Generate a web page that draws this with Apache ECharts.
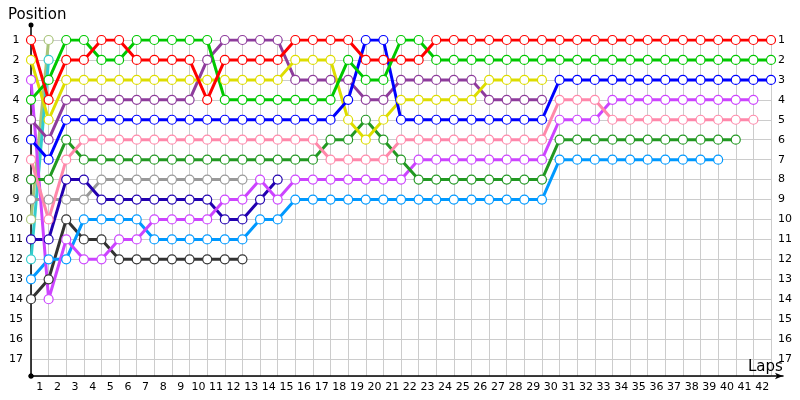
<!DOCTYPE html>
<html><head><meta charset="utf-8">
<script src="https://cdn.jsdelivr.net/npm/echarts@6/dist/echarts.min.js"></script>
<style>html,body{margin:0;padding:0;background:#fff}#c{width:800px;height:400px}</style>
</head><body><div id="c"></div>
<script>
function rep(v,n){var a=[];for(var i=0;i<n;i++)a.push(v);return a;}
var lapLabels=[];for(var i=1;i<=42;i++)lapLabels.push(String(i));
// positions per lap, index = lap (0 = start)
var red=[1,4,2,2,1,1,2,2,2,2,4,2,2,2,2,1,1,1,1,2,2,2,2].concat(rep(1,20));
var green=[4,3,1,1,2,2,1,1,1,1,1,4,4,4,4,4,4,4,2,3,3,1,1].concat(rep(2,20));
var blue=[6,7].concat(rep(5,16),[4,1,1],rep(5,9),rep(3,13));
var yellow=[2,5].concat(rep(3,13),[2,2,2,5,6,5],rep(4,5),rep(3,4));
var purple=[5,6].concat(rep(4,8),[2],rep(1,4),rep(3,4),[4,4],rep(3,5),rep(4,4));
var pink=[7,10,7].concat(rep(6,14),rep(7,4),rep(6,9),rep(4,3),rep(5,9));
var dgreen=[8,8,6].concat(rep(7,14),[6,6,5,6,7],rep(8,8),rep(6,11));
var lblue=[13,12,12].concat(rep(10,4),rep(11,6),[10,10],rep(9,15),rep(7,10));
var magenta=[3,14,11,12,12,11,11].concat(rep(10,4),[9,9,8,9],rep(8,7),rep(7,8),rep(5,3),rep(4,9));
var navy=[11,11,8,8].concat(rep(9,7),[10,10,9,8]);
var gray=[9,9,9,9].concat(rep(8,9));
var dgray=[14,13,10,11,11].concat(rep(12,8));
var olive=[10,1];
var cyan=[12,2];

var drivers=[
 {d:olive,c:'#a9c47a'},{d:cyan,c:'#33cccc'},
 {d:dgray,c:'#333333'},{d:gray,c:'#999999'},{d:navy,c:'#2200b0'},
 {d:lblue,c:'#0099ff'},{d:magenta,c:'#cc44ff'},{d:dgreen,c:'#229922'},
 {d:pink,c:'#ff88aa'},{d:purple,c:'#8e3c9c'},{d:yellow,c:'#dddd00'},
 {d:blue,c:'#0000ff'},{d:green,c:'#00c800'},{d:red,c:'#ff0000'}
];
var FONT='DejaVu Sans';
var series=drivers.map(function(o){
 return {type:'line',xAxisIndex:0,yAxisIndex:0,
  data:o.d.map(function(p,i){return [i,p];}),
  symbol:'circle',symbolSize:9,showAllSymbol:true,
  lineStyle:{color:o.c,width:3},
  itemStyle:{color:'#ffffff',borderColor:o.c,borderWidth:1.2},
  emphasis:{disabled:true},silent:true,animation:false};
});
var chart=echarts.init(document.getElementById('c'),null,{renderer:'canvas'});
chart.setOption({
 animation:false,
 title:[{text:'Position',left:3,top:3,textStyle:{fontFamily:FONT,fontSize:15,fontWeight:'normal',color:'#000'}},
        {text:'Laps',left:743,top:355,textStyle:{fontFamily:FONT,fontSize:15,fontWeight:'normal',color:'#000'}}],
 grid:[{left:31,right:29,top:40,bottom:24},
       {left:31,right:17,top:25,bottom:24}],
 xAxis:[
  {type:'value',gridIndex:0,min:0,max:42,interval:1,axisLine:{show:false},axisTick:{show:false},axisLabel:{show:false},
   splitLine:{show:true,lineStyle:{color:'#cccccc',width:1}}},
  {type:'category',gridIndex:0,data:lapLabels,boundaryGap:true,position:'bottom',axisLine:{show:false},axisTick:{show:false},
   splitLine:{show:false},axisLabel:{show:true,interval:0,margin:6,fontFamily:FONT,fontSize:11,color:'#000'}},
  {type:'value',gridIndex:1,min:0,max:1,axisLine:{show:true,lineStyle:{color:'#000',width:1.5},symbol:['circle','arrow'],symbolSize:[5,8]},
   axisTick:{show:false},axisLabel:{show:false},splitLine:{show:false}}
 ],
 yAxis:[
  {type:'value',gridIndex:0,inverse:true,min:1,max:17.85,interval:1,axisLine:{show:false},axisTick:{show:false},
   axisLabel:{show:true,margin:15,align:'center',fontFamily:FONT,fontSize:11,color:'#000',
     formatter:function(v){return Number.isInteger(v)?String(v):'';}},
   splitLine:{show:true,lineStyle:{color:'#cccccc',width:1}}},
  {type:'value',gridIndex:0,inverse:true,min:1,max:17.85,interval:1,position:'right',axisLine:{show:false},axisTick:{show:false},
   axisLabel:{show:true,margin:7,align:'left',fontFamily:FONT,fontSize:11,color:'#000',
     formatter:function(v){return Number.isInteger(v)?String(v):'';}},
   splitLine:{show:false}},
  {type:'value',gridIndex:1,min:0,max:1,axisLine:{show:true,lineStyle:{color:'#000',width:1.5},symbol:['circle','circle'],symbolSize:[5,5]},
   axisTick:{show:false},axisLabel:{show:false},splitLine:{show:false}}
 ],
 series:series
});
</script></body></html>
